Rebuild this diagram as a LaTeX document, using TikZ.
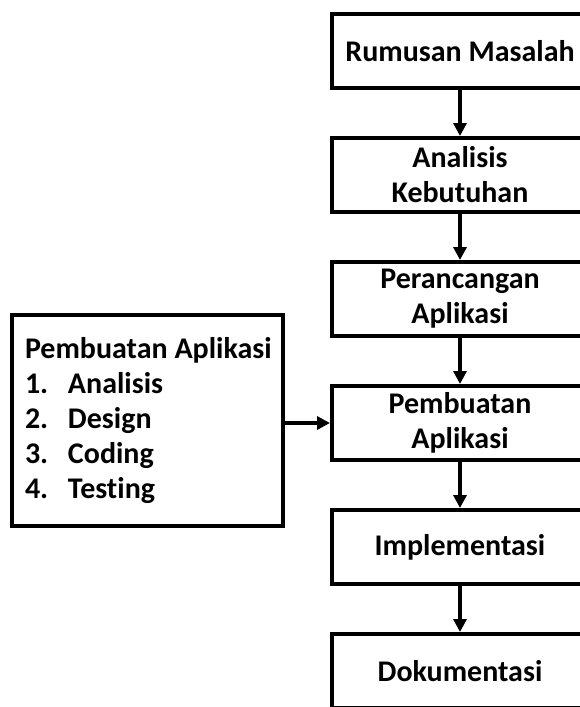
\documentclass[tikz,border=0pt]{standalone}
\usepackage{fontspec}
\setmainfont{Carlito}[Ligatures={NoCommon,NoContextual}]
\usetikzlibrary{positioning,arrows.meta}
\tikzset{
  langkah/.style={draw, line width=4pt, minimum width=256pt, minimum height=74pt,
    align=center, inner sep=0pt, font=\bfseries\fontsize{30}{35}\selectfont},
  panah/.style={line width=4pt, -{Triangle[length=13pt,width=13pt]}},
}
\newcommand{\nomor}[1]{\makebox[43pt][l]{#1}}
\begin{document}
\begin{tikzpicture}[x=1pt, y=-1pt, node distance=46pt]
    \useasboundingbox (0,0) rectangle (580,707);
    \clip (0,0) rectangle (580,707);
    % alur utama
    \node[langkah] (rumusan) at (460,51) {Rumusan Masalah};
    \node[langkah, below=of rumusan] (analisis) {Analisis\\Kebutuhan};
    \node[langkah, below=of analisis] (rancang) {Perancangan\\Aplikasi};
    \node[langkah, below=of rancang] (buat) {Pembuatan\\Aplikasi};
    \node[langkah, below=of buat] (implementasi) {Implementasi};
    \node[langkah, below=of implementasi] (dokumentasi) {Dokumentasi};
    % rincian pembuatan
    \node[langkah, align=left, inner xsep=13pt,
        minimum width=271pt, minimum height=211pt] (rincian) at (147.5,420.5)
        {\makebox[245pt][l]{Pembuatan Aplikasi}\\\nomor{1.}Analisis\\\nomor{2.}Design\\\nomor{3.}Coding\\\nomor{4.}Testing};
    \draw[panah] (rumusan) -- (analisis);
    \draw[panah] (analisis) -- (rancang);
    \draw[panah] (rancang) -- (buat);
    \draw[panah] (buat) -- (implementasi);
    \draw[panah] (implementasi) -- (dokumentasi);
    \draw[panah] (rincian.east |- buat) -- (buat);
\end{tikzpicture}
\end{document}
